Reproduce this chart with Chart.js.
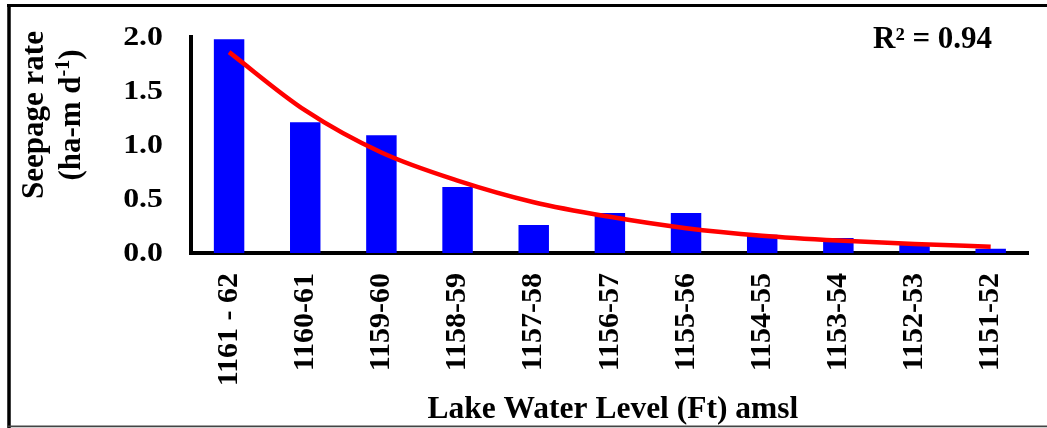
<!DOCTYPE html>
<html>
<head>
<meta charset="utf-8">
<script src="https://cdn.jsdelivr.net/npm/chart.js@4/dist/chart.umd.min.js"></script>
<style>
  html, body { margin: 0; padding: 0; background: #ffffff; }
  #wrap { position: relative; width: 1047px; height: 428px; }
</style>
</head>
<body>
<div id="wrap"><canvas id="chart"></canvas></div>
<script>
// Lake water level bands (ft amsl)
const categories = ['1161 - 62', '1160-61', '1159-60', '1158-59', '1157-58', '1156-57',
                    '1155-56', '1154-55', '1153-54', '1152-53', '1151-52'];
// Measured seepage rate (ha-m/day)
const seepage = [1.98, 1.21, 1.09, 0.61, 0.26, 0.37, 0.37, 0.17, 0.14, 0.08, 0.04];
// Exponential trend line values at each band
const trend = [1.86, 1.32, 0.93, 0.67, 0.47, 0.335, 0.23, 0.16, 0.115, 0.083, 0.058];
// Y axis tick values
const yTicks = [0, 0.5, 1.0, 1.5, 2.0];
const r2Label = 'R\u00B2 = 0.94';

const SERIF = "'Liberation Serif', 'Times New Roman', serif";

// Outer frame, axis titles, y tick labels and the R² note
const decorations = {
  id: 'decorations',
  beforeDraw(chart) {
    const ctx = chart.ctx;
    ctx.save();
    ctx.fillStyle = '#ffffff';
    ctx.fillRect(0, 0, chart.width, chart.height);
    ctx.strokeStyle = '#000000';
    ctx.lineWidth = 3.5;
    ctx.beginPath();
    ctx.moveTo(9, 4); ctx.lineTo(9, 428);
    ctx.stroke();
    ctx.lineWidth = 3;
    ctx.beginPath();
    ctx.moveTo(7, 5.5); ctx.lineTo(1047, 5.5);
    ctx.stroke();
    ctx.strokeStyle = '#444444';
    ctx.lineWidth = 1.8;
    ctx.beginPath();
    ctx.moveTo(7, 426.3); ctx.lineTo(1047, 426.3);
    ctx.stroke();
    ctx.restore();
  },
  afterDraw(chart) {
    const ctx = chart.ctx;
    const area = chart.chartArea;
    const yScale = chart.scales.y;
    ctx.save();
    ctx.fillStyle = '#000000';

    // y tick labels, set in a slightly wide bold serif
    ctx.font = 'bold 27px ' + SERIF;
    ctx.textAlign = 'right';
    ctx.textBaseline = 'middle';
    yTicks.forEach(v => {
      const py = yScale.getPixelForValue(v);
      ctx.save();
      ctx.translate(area.left - 28, py + 1);
      ctx.scale(1.18, 1);
      ctx.fillText(v.toFixed(1), 0, 0);
      ctx.restore();
    });

    // x axis title
    ctx.font = 'bold 31.5px ' + SERIF;
    ctx.textAlign = 'center';
    ctx.textBaseline = 'alphabetic';
    ctx.fillText('Lake Water Level (Ft) amsl', (area.left + area.right) / 2 + 3, 418);

    // R² note
    ctx.font = 'bold 31px ' + SERIF;
    ctx.textAlign = 'left';
    ctx.fillText(r2Label, 873, 48);

    // y axis title (two rotated lines)
    const cy = 115;
    ctx.save();
    ctx.translate(35, cy);
    ctx.rotate(-Math.PI / 2);
    ctx.textAlign = 'center';
    ctx.textBaseline = 'middle';
    ctx.font = 'bold 31px ' + SERIF;
    ctx.fillText('Seepage rate', 0, 0);
    ctx.restore();

    ctx.save();
    ctx.translate(72, cy);
    ctx.rotate(-Math.PI / 2);
    ctx.textBaseline = 'middle';
    ctx.textAlign = 'left';
    const mainFont = 'bold 31px ' + SERIF;
    const supFont = 'bold 20px ' + SERIF;
    ctx.font = mainFont;
    const w1 = ctx.measureText('(ha-m d').width;
    const w3 = ctx.measureText(')').width;
    ctx.font = supFont;
    const w2 = ctx.measureText('-1').width;
    let x = -(w1 + w2 + w3) / 2;
    ctx.font = mainFont;
    ctx.fillText('(ha-m d', x, 0);
    x += w1;
    ctx.font = supFont;
    ctx.fillText('-1', x, -8);
    x += w2;
    ctx.font = mainFont;
    ctx.fillText(')', x, 0);
    ctx.restore();

    ctx.restore();
  }
};

new Chart(document.getElementById('chart'), {
  type: 'bar',
  data: {
    labels: categories,
    datasets: [
      {
        type: 'line',
        label: 'Trend',
        data: trend,
        borderColor: '#ff0000',
        borderWidth: 4.5,
        pointRadius: 0,
        fill: false,
        cubicInterpolationMode: 'monotone',
        order: 0
      },
      {
        type: 'bar',
        label: 'Seepage rate',
        data: seepage,
        backgroundColor: '#0000ff',
        borderWidth: 0,
        barPercentage: 0.4,
        categoryPercentage: 1.0,
        order: 1
      }
    ]
  },
  options: {
    responsive: true,
    maintainAspectRatio: false,
    animation: false,
    layout: { padding: { left: 0, top: 37, right: 7, bottom: 0 } },
    plugins: {
      legend: { display: false },
      tooltip: { enabled: false }
    },
    scales: {
      x: {
        offset: true,
        grid: { display: false, drawTicks: false },
        border: { display: true, color: '#000000', width: 4 },
        ticks: {
          color: '#000000',
          font: { family: SERIF, size: 30, weight: 'bold' },
          minRotation: 90,
          maxRotation: 90,
          autoSkip: false,
          padding: 20
        },
        afterFit(scale) { scale.height = 428 - 253; }
      },
      y: {
        min: 0,
        max: 2,
        grid: { display: false, drawTicks: false },
        border: { display: true, color: '#000000', width: 4 },
        afterBuildTicks(scale) { scale.ticks = yTicks.map(v => ({ value: v })); },
        ticks: {
          display: false,
          font: { family: SERIF, size: 27, weight: 'bold' }
        },
        afterFit(scale) { scale.width = 191; }
      }
    }
  },
  plugins: [decorations]
});
</script>
</body>
</html>
